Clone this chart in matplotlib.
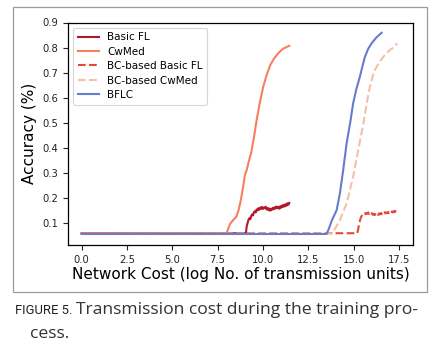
import matplotlib
matplotlib.use("Agg")
import matplotlib.pyplot as plt
from matplotlib.patches import Rectangle

# ---------------- data ----------------
basic_fl_x = [0.0, 9.06, 9.10, 9.15, 9.20, 9.25, 9.30, 9.35, 9.40, 9.45, 9.50, 9.55, 9.60, 9.65,
              9.70, 9.75, 9.80, 9.85, 9.90, 9.95, 10.00, 10.05, 10.10, 10.15, 10.20, 10.25,
              10.30, 10.35, 10.40, 10.45, 10.50, 10.55, 10.60, 10.65, 10.70, 10.75, 10.80,
              10.85, 10.90, 10.95, 11.00, 11.05, 11.10, 11.15, 11.20, 11.25, 11.30, 11.35,
              11.40, 11.45]
basic_fl_y = [0.058, 0.058, 0.085, 0.098, 0.112, 0.118, 0.114, 0.127, 0.133, 0.129, 0.142, 0.146,
              0.141, 0.153, 0.149, 0.158, 0.152, 0.161, 0.156, 0.163, 0.155, 0.161, 0.158,
              0.164, 0.153, 0.159, 0.150, 0.157, 0.148, 0.156, 0.152, 0.160, 0.154, 0.162,
              0.157, 0.165, 0.158, 0.163, 0.156, 0.166, 0.160, 0.169, 0.163, 0.172, 0.165,
              0.174, 0.168, 0.178, 0.172, 0.179]

cwmed_x = [0.0, 8.0, 8.1, 8.2, 8.35, 8.54, 8.65, 8.75, 8.9, 9.0, 9.1, 9.2, 9.35, 9.5, 9.65,
           9.8, 10.0, 10.2, 10.4, 10.6, 10.85, 11.1, 11.3, 11.45]
cwmed_y = [0.058, 0.058, 0.08, 0.097, 0.11, 0.125, 0.15, 0.18, 0.24, 0.29, 0.31, 0.34, 0.38,
           0.44, 0.51, 0.57, 0.64, 0.69, 0.73, 0.755, 0.778, 0.795, 0.802, 0.807]

bc_basic_x = [0.0, 15.20, 15.25, 15.30, 15.35, 15.40, 15.45, 15.50, 15.55, 15.60, 15.65, 15.70,
              15.75, 15.80, 15.85, 15.90, 15.95, 16.00, 16.05, 16.10, 16.15, 16.20, 16.25,
              16.30, 16.35, 16.40, 16.45, 16.50, 16.55, 16.60, 16.65, 16.70, 16.75, 16.80,
              16.85, 16.90, 16.95, 17.00, 17.05, 17.10, 17.15, 17.20, 17.25, 17.30, 17.35,
              17.40]
bc_basic_y = [0.058, 0.058, 0.075, 0.095, 0.110, 0.122, 0.128, 0.133, 0.131, 0.137, 0.134, 0.139,
              0.136, 0.141, 0.135, 0.139, 0.133, 0.138, 0.132, 0.136, 0.130, 0.134, 0.129,
              0.135, 0.131, 0.137, 0.133, 0.139, 0.135, 0.140, 0.136, 0.142, 0.137, 0.141,
              0.138, 0.143, 0.139, 0.144, 0.140, 0.145, 0.141, 0.146, 0.142, 0.147, 0.143,
              0.146]

bc_cwmed_x = [0.0, 13.78, 14.0, 14.24, 14.61, 14.97, 15.25, 15.52, 15.7, 15.89, 16.05, 16.17,
              16.4, 16.63, 16.99, 17.2, 17.4]
bc_cwmed_y = [0.056, 0.057, 0.08, 0.11, 0.177, 0.283, 0.39, 0.49, 0.57, 0.643, 0.685, 0.71,
              0.74, 0.763, 0.79, 0.80, 0.817]

bflc_x = [0.0, 13.5, 13.6, 13.8, 14.06, 14.24, 14.42, 14.61, 14.83, 14.97, 15.15, 15.34, 15.5,
          15.62, 15.8, 15.99, 16.25, 16.54]
bflc_y = [0.055, 0.055, 0.07, 0.11, 0.15, 0.217, 0.31, 0.417, 0.51, 0.577, 0.635, 0.683, 0.73,
          0.763, 0.795, 0.817, 0.84, 0.859]

labels = ["Basic FL", "CwMed", "BC-based Basic FL", "BC-based CwMed", "BFLC"]
xticks = [0.0, 2.5, 5.0, 7.5, 10.0, 12.5, 15.0, 17.5]
yticks = [0.1, 0.2, 0.3, 0.4, 0.5, 0.6, 0.7, 0.8, 0.9]

# ---------------- plot ----------------
W, H = 433, 341
fig = plt.figure(figsize=(W / 100, H / 100), dpi=100)

# outer frame
fig.patches.append(Rectangle((13 / W, 1 - 292 / H), (427 - 13) / W, (292 - 7) / H,
                             transform=fig.transFigure, fill=False,
                             edgecolor="#9a9a9a", linewidth=0.9))

ax = fig.add_axes([68 / W, 1 - 245 / H, (413 - 68) / W, (245 - 22.5) / H])

lw = 1.5
ax.plot(basic_fl_x, basic_fl_y, color="#b2172c", lw=lw, label=labels[0])
ax.plot(cwmed_x, cwmed_y, color="#f4805f", lw=lw, label=labels[1])
ax.plot(bc_basic_x, bc_basic_y, color="#e2493a", lw=lw, ls="--", label=labels[2])
ax.plot(bc_cwmed_x, bc_cwmed_y, color="#f5c0a5", lw=lw, ls="--", label=labels[3])
ax.plot(bflc_x, bflc_y, color="#667ccd", lw=lw, label=labels[4])

ax.set_xlim(-0.75, 18.27)
ax.set_ylim(0.011, 0.9)
ax.set_xticks(xticks)
ax.set_yticks(yticks)
ax.set_xticklabels([f"{t:.1f}" for t in xticks])
ax.set_yticklabels([f"{t:.1f}" for t in yticks])
ax.tick_params(labelsize=7.2, length=3.5, width=0.8, colors="#222222")
for s in ax.spines.values():
    s.set_linewidth(0.9)

ax.set_xlabel("Network Cost (log No. of transmission units)", fontsize=11.0, labelpad=2)
ax.set_ylabel("Accuracy (%)", fontsize=11.0, labelpad=4)

leg = ax.legend(loc="upper left", fontsize=7.5, frameon=True, handlelength=2.0,
                borderpad=0.45, labelspacing=0.42, handletextpad=0.8,
                bbox_to_anchor=(0.0, 1.0))
leg.get_frame().set_linewidth(0.8)

# caption
fig.text(15 / W, 1 - 314 / H, "FIGURE 5.", fontsize=9.4, family="Roboto",
         color="#222222", ha="left", va="baseline")
fig.text(76 / W, 1 - 314 / H, "Transmission cost during the training pro-",
         fontsize=12.6, family="Open Sans", color="#333333", ha="left", va="baseline")
fig.text(30 / W, 1 - 338 / H, "cess.", fontsize=12.6, family="Open Sans",
         color="#333333", ha="left", va="baseline")

fig.savefig("out.png", dpi=100)
